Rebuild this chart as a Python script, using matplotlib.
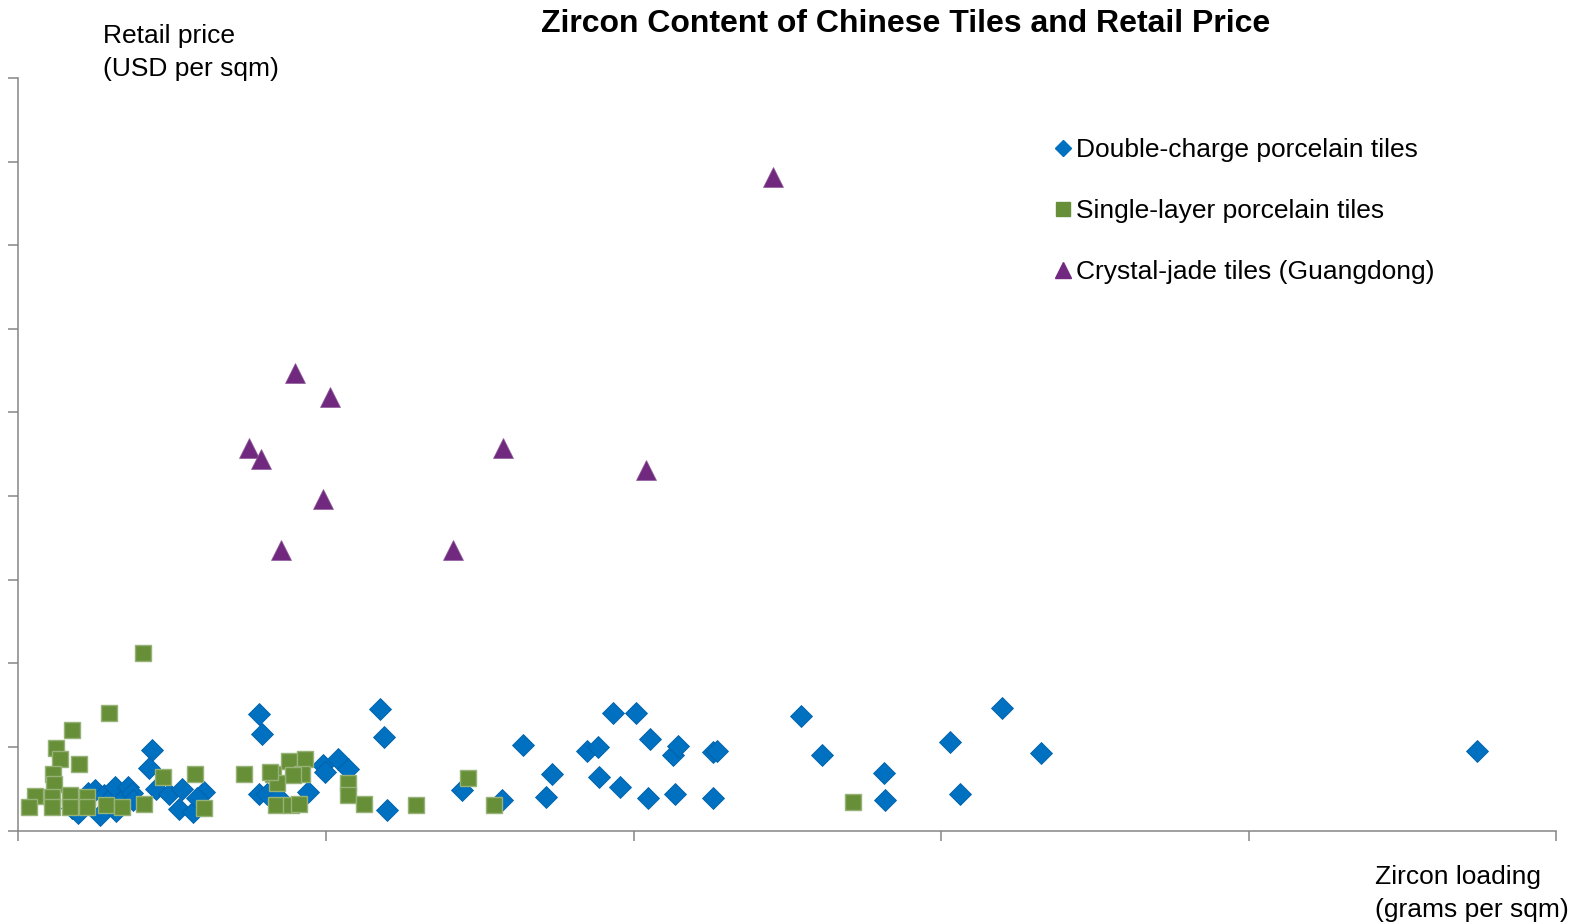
import matplotlib
matplotlib.use("Agg")
import matplotlib.pyplot as plt
from matplotlib.lines import Line2D

plt.rcParams['font.family'] = ['Liberation Sans', 'DejaVu Sans']

# *
# Data (zircon loading, retail price)
# *
double_x = [17.5, 19.5, 22.7, 24.9, 26.6, 27.9, 30.5, 31.4, 31.8, 34.7, 35.7, 37.0, 37.3,
            43.5, 42.6, 44.8, 49.0, 53.2, 52.2, 56.8, 60.3, 58.0,
            78.2, 79.1, 117.7, 118.8, 99.0, 99.7, 104.0, 107.1, 94.2, 78.3, 80.8, 84.4,
            119.8, 144.1,
            157.2, 164.0, 171.7, 173.5, 184.8, 188.6, 188.8, 193.4, 195.7, 200.7, 205.4,
            204.8, 212.9, 214.6, 213.5, 225.9, 227.2, 225.9, 254.4, 261.4, 281.3, 281.8,
            302.9, 306.1, 319.8, 332.6, 474.1]
double_y = [2.7, 2.1, 4.5, 4.8, 1.9, 4.2, 4.0, 5.2, 2.3, 4.0, 5.2, 4.5, 3.6,
            9.6, 7.5, 5.0, 4.4, 5.0, 2.6, 2.2, 4.6, 3.9,
            13.9, 11.5, 14.5, 11.2, 7.8, 7.0, 8.6, 7.3, 4.6, 4.4, 4.4, 4.0,
            2.5, 4.9,
            3.6, 10.2, 4.0, 6.7, 9.5, 10.0, 6.4, 14.1, 5.2, 14.1, 10.9,
            3.9, 9.0, 10.1, 4.4, 9.4, 9.5, 3.9, 13.7, 9.0, 6.9, 3.6,
            10.6, 4.4, 14.6, 9.3, 9.5]

single_x = [40.4, 29.5, 17.5, 12.3, 13.6, 19.7, 11.2, 11.6, 5.5, 3.5, 11.1, 11.1,
            16.8, 16.8, 22.3, 22.3, 28.5, 33.7, 41.0, 46.9, 57.3, 60.5,
            73.4, 82.9, 88.1, 93.2, 92.2, 89.2, 84.0, 83.7, 88.6, 91.4, 81.8,
            107.1, 107.1, 112.4, 129.3, 146.3, 154.7, 271.3]
single_y = [21.2, 14.1, 12.0, 9.9, 8.5, 8.0, 6.7, 5.6, 4.1, 2.8, 4.0, 2.8,
            4.2, 2.8, 4.0, 2.8, 3.1, 2.8, 3.2, 6.4, 6.7, 2.7,
            6.7, 6.7, 8.3, 8.6, 6.8, 6.6, 5.7, 3.0, 3.0, 3.2, 7.0,
            5.7, 4.2, 3.2, 3.1, 6.3, 3.0, 3.4]

jade_x = [245.2, 90.1, 101.4, 75.0, 78.8, 157.6, 204.2, 99.2, 85.3, 141.3]
jade_y = [78.2, 54.7, 51.8, 45.8, 44.4, 45.8, 43.1, 39.7, 33.6, 33.6]

labels = ["Double-charge porcelain tiles",
          "Single-layer porcelain tiles",
          "Crystal-jade tiles (Guangdong)"]

x_ticks = [0, 100, 200, 300, 400, 500]
y_ticks = [0, 10, 20, 30, 40, 50, 60, 70, 80, 90]

blue = '#0070C0'
green = '#678F38'
purple = '#70297F'
axis_grey = '#868686'

# *
# Figure
# *
fig = plt.figure(figsize=(15.75, 9.22), dpi=100)
ax = fig.add_axes([18.3 / 1575, (922 - 830.5) / 922, (1556.3 - 18.3) / 1575, 752.4 / 922])

ax.plot(double_x, double_y, linestyle='none', marker='D', markersize=10.8,
        color=blue, markeredgecolor='#0062AA', markeredgewidth=0.6, zorder=3)
ax.plot(single_x, single_y, linestyle='none', marker='s', markersize=11.8,
        color=green, markeredgecolor='#97B277', markeredgewidth=1.0, zorder=4)
ax.plot(jade_x, jade_y, linestyle='none', marker='^', markersize=14.2,
        color=purple, markeredgecolor='#8E5A9A', markeredgewidth=0.5, zorder=5)

ax.set_xlim(x_ticks[0], x_ticks[-1])
ax.set_ylim(y_ticks[0], y_ticks[-1])
ax.set_xticks(x_ticks)
ax.set_yticks(y_ticks)
ax.set_xticklabels([])
ax.set_yticklabels([])
ax.tick_params(direction='out', length=7, width=1.1, color=axis_grey)

for side in ['top', 'right']:
    ax.spines[side].set_visible(False)
for side in ['left', 'bottom']:
    ax.spines[side].set_color(axis_grey)
    ax.spines[side].set_linewidth(1.1)

# legend with smaller proxy markers
handles = [
    Line2D([], [], linestyle='none', marker='D', markersize=8.6, color=blue),
    Line2D([], [], linestyle='none', marker='s', markersize=10.5, color=green),
    Line2D([], [], linestyle='none', marker='^', markersize=11.5, color=purple),
]
ax.legend(handles, labels, loc='upper left', bbox_to_anchor=(1054 / 1575, 1 - 138 / 922),
          bbox_transform=fig.transFigure, frameon=False, fontsize=19,
          handlelength=0.7, handletextpad=0.15, labelspacing=1.4, borderpad=0,
          borderaxespad=0)

# *
# Texts
# *
fig.text(906 / 1575, 1 - 24.5 / 922, "Zircon Content of Chinese Tiles and Retail Price",
         ha='center', va='center', fontsize=23, fontweight='bold')
fig.text(102.5 / 1575, 1 - 52.5 / 922, "Retail price\n(USD per sqm)",
         ha='left', va='center', fontsize=19, linespacing=1.48)
fig.text(1375 / 1575, 1 - 893.5 / 922, "Zircon loading\n(grams per sqm)",
         ha='left', va='center', fontsize=19, linespacing=1.48)

fig.savefig("out.png", dpi=100)
